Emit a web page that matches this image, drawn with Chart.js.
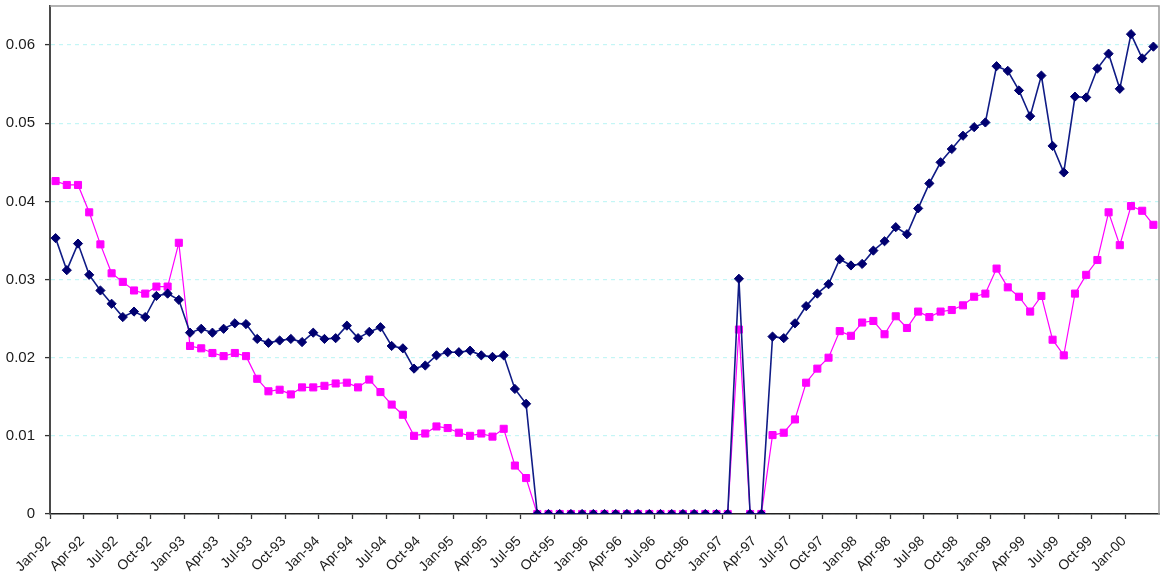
<!DOCTYPE html>
<html>
<head>
<meta charset="utf-8">
<script src="https://cdn.jsdelivr.net/npm/chart.js@4/dist/chart.umd.min.js"></script>
<style>
  html, body { margin: 0; padding: 0; background: #ffffff; }
  #wrap { width: 1161px; height: 580px; position: relative; }
</style>
</head>
<body>
<div id="wrap"><canvas id="c"></canvas></div>
<script>
// Month names and years used to build the monthly category labels (Jan-92 .. Mar-00)
const monthNames = ['Jan','Feb','Mar','Apr','May','Jun','Jul','Aug','Sep','Oct','Nov','Dec'];
const years = ['92','93','94','95','96','97','98','99','00'];
const monthCount = 99;

const categories = [];
for (let i = 0; i < monthCount; i++) {
  categories.push(monthNames[i % 12] + '-' + years[Math.floor(i / 12)]);
}

// Series 1 (navy diamonds)
const seriesNavy = [
  0.0353, 0.0312, 0.0346, 0.0306, 0.0286, 0.0269, 0.0252, 0.0259, 0.0252, 0.0279, 0.0282, 0.0274,
  0.0232, 0.0237, 0.0232, 0.0237, 0.0244, 0.0243, 0.0224, 0.0219, 0.0222, 0.0224, 0.0220, 0.0232,
  0.0224, 0.0225, 0.0241, 0.0225, 0.0233, 0.0239, 0.0215, 0.0212, 0.0186, 0.0190, 0.0203, 0.0207,
  0.0207, 0.0209, 0.0203, 0.0201, 0.0203, 0.0160, 0.0141, 0, 0, 0, 0, 0,
  0, 0, 0, 0, 0, 0, 0, 0, 0, 0, 0, 0,
  0, 0.0301, 0, 0, 0.0227, 0.0225, 0.0244, 0.0266, 0.0282, 0.0294, 0.0326, 0.0318,
  0.0320, 0.0337, 0.0349, 0.0367, 0.0358, 0.0391, 0.0423, 0.0450, 0.0467, 0.0484, 0.0495, 0.0501,
  0.0573, 0.0567, 0.0542, 0.0509, 0.0561, 0.0471, 0.0437, 0.0534, 0.0533, 0.0570, 0.0589, 0.0544,
  0.0614, 0.0583, 0.0598
];

// Series 2 (magenta squares)
const seriesMagenta = [
  0.0426, 0.0421, 0.0421, 0.0386, 0.0345, 0.0308, 0.0297, 0.0286, 0.0282, 0.0291, 0.0291, 0.0347,
  0.0215, 0.0212, 0.0206, 0.0202, 0.0206, 0.0202, 0.0173, 0.0157, 0.0159, 0.0153, 0.0162, 0.0162,
  0.0164, 0.0167, 0.0168, 0.0162, 0.0172, 0.0156, 0.0140, 0.0127, 0.0100, 0.0103, 0.0112, 0.0110,
  0.0104, 0.0100, 0.0103, 0.0099, 0.0109, 0.0062, 0.0046, 0, 0, 0, 0, 0,
  0, 0, 0, 0, 0, 0, 0, 0, 0, 0, 0, 0,
  0, 0.0236, 0, 0, 0.0101, 0.0104, 0.0121, 0.0168, 0.0186, 0.0200, 0.0234, 0.0228,
  0.0245, 0.0247, 0.0230, 0.0253, 0.0238, 0.0259, 0.0252, 0.0259, 0.0261, 0.0267, 0.0278, 0.0282,
  0.0314, 0.0290, 0.0278, 0.0259, 0.0279, 0.0223, 0.0203, 0.0282, 0.0306, 0.0325, 0.0386, 0.0344,
  0.0394, 0.0388, 0.0370
];

// Value axis range and tick step; a month label every quarter
const yMin = 0;
const yMax = 0.065;
const yStep = 0.01;
const labelEvery = 3;

// Grey frame along the top and right edges of the plot area
const plotFrame = {
  id: 'plotFrame',
  afterDatasetsDraw(chart) {
    const { ctx, chartArea: a } = chart;
    ctx.save();
    ctx.strokeStyle = '#9a9a9a';
    ctx.lineWidth = 1.5;
    ctx.beginPath();
    ctx.moveTo(a.left, a.top);
    ctx.lineTo(a.right, a.top);
    ctx.lineTo(a.right, a.bottom);
    ctx.stroke();
    ctx.restore();
  }
};

const fontFamily = '"Liberation Sans", Arial, sans-serif';

new Chart(document.getElementById('c'), {
  type: 'line',
  data: {
    labels: categories,
    datasets: [
      {
        label: 'Series 1',
        data: seriesNavy,
        borderColor: '#101c86',
        borderWidth: 1.6,
        backgroundColor: '#000070',
        pointStyle: 'rectRot',
        pointRadius: 4.6,
        pointBorderColor: '#000070',
        pointBackgroundColor: '#000070',
        pointBorderWidth: 1,
        tension: 0
      },
      {
        label: 'Series 2',
        data: seriesMagenta,
        borderColor: '#ff00ff',
        borderWidth: 1.2,
        backgroundColor: '#ff00ff',
        pointStyle: 'rect',
        pointRadius: 5,
        pointBorderColor: '#ff00ff',
        pointBackgroundColor: '#ff00ff',
        pointBorderWidth: 1,
        tension: 0
      }
    ]
  },
  options: {
    responsive: true,
    maintainAspectRatio: false,
    animation: false,
    events: [],
    layout: { autoPadding: false, padding: { top: 6, right: 2, left: 0, bottom: 0 } },
    plugins: {
      legend: { display: false },
      tooltip: { enabled: false }
    },
    scales: {
      x: {
        type: 'category',
        offset: true,
        afterFit(scale) {
          scale.height = 66;
          scale.paddingLeft = 0;
          scale.paddingRight = 0;
        },
        grid: {
          offset: true,
          drawOnChartArea: false,
          drawTicks: true,
          tickLength: 5,
          tickWidth: 1.3,
          tickBorderDash: [],
          tickColor: (c) => (c.index % labelEvery === 0 ? '#333333' : 'rgba(0,0,0,0)')
        },
        border: { display: true, color: '#222222', width: 1.6 },
        ticks: {
          autoSkip: false,
          minRotation: 45,
          maxRotation: 45,
          labelOffset: -7,
          padding: 14,
          color: '#1a1a1a',
          font: { family: fontFamily, size: 14 },
          callback(value, index) {
            return index % labelEvery === 0 ? this.getLabelForValue(value) : '';
          }
        }
      },
      y: {
        min: yMin,
        max: yMax,
        afterFit(scale) {
          scale.width = 50;
          scale.paddingTop = 0;
          scale.paddingBottom = 0;
        },
        grid: {
          color: '#c4f6f6',
          lineWidth: 1.2,
          drawTicks: true,
          tickLength: 5,
          tickColor: '#333333',
          tickWidth: 1.3,
          tickBorderDash: []
        },
        border: { display: true, color: '#4a4a4a', width: 2, dash: [4, 4] },
        ticks: {
          stepSize: yStep,
          padding: 10,
          color: '#1a1a1a',
          font: { family: fontFamily, size: 15 },
          callback(value) {
            const k = Math.round(value / yStep);
            if (Math.abs(value - k * yStep) > 1e-9) return null;
            return k === 0 ? '0' : value.toFixed(2);
          }
        }
      }
    }
  },
  plugins: [plotFrame]
});
</script>
</body>
</html>
